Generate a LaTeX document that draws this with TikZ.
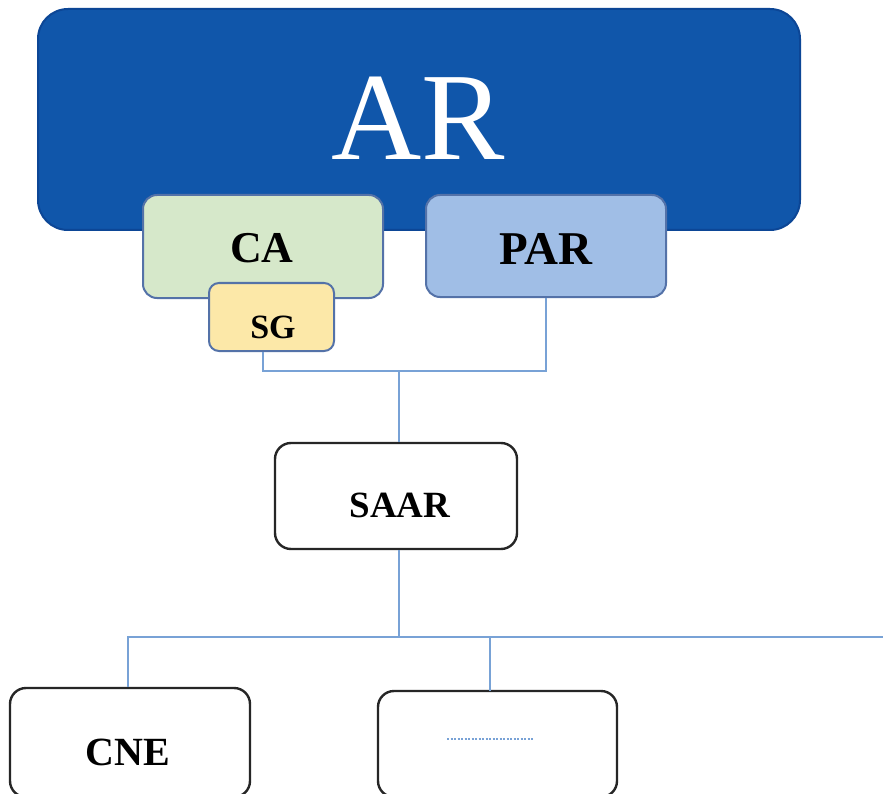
\documentclass[tikz,border=0pt]{standalone}
\usepackage{fontspec}
\setmainfont{Liberation Serif}
\definecolor{arblue}{RGB}{16,86,170}
\definecolor{arborder}{RGB}{12,70,150}
\definecolor{cagreen}{RGB}{214,232,202}
\definecolor{sgyellow}{RGB}{252,232,168}
\definecolor{parblue}{RGB}{160,190,230}
\definecolor{boxedge}{RGB}{84,114,168}
\definecolor{connblue}{RGB}{120,162,214}
\begin{document}
\begin{tikzpicture}[x=1pt,y=-1pt,
  boxbase/.style={rectangle,inner sep=0pt,line width=2pt},
  colbox/.style={boxbase,draw=boxedge,rounded corners=14pt},
  whitebox/.style={boxbase,draw=black!85,fill=white,line width=2.4pt,rounded corners=16pt},
  conn/.style={draw=connblue,line width=1.4pt},
  lbl/.style={anchor=base,inner sep=0pt,font=\bfseries}
]
\useasboundingbox (0,0) rectangle (883,794);
\clip (0,0) rectangle (883,794);
\fill[white] (0,0) rectangle (883,794);

% top box
\node[boxbase,draw=arborder,fill=arblue,rounded corners=30pt,minimum width=762pt,minimum height=221pt] (ar) at (419,119.5) {};
\node[anchor=base,inner sep=0pt,text=white,font=\fontsize{125}{125}\selectfont] (artext) at (418,160) {AR};

% CA, PAR, SG
\node[colbox,fill=cagreen,minimum width=240pt,minimum height=103pt] (ca) at (263,246.5) {};
\node[lbl,font=\bfseries\fontsize{44}{44}\selectfont] (catext) at (262,263) {CA};
\node[colbox,fill=parblue,minimum width=240pt,minimum height=102pt] (par) at (546,246) {};
\node[lbl,font=\bfseries\fontsize{47}{47}\selectfont] (partext) at (546,265) {PAR};
\node[colbox,fill=sgyellow,rounded corners=10pt,minimum width=125pt,minimum height=68pt] (sg) at (271.5,317) {};
\node[lbl,font=\bfseries\fontsize{34}{34}\selectfont] (sgtext) at (273,338) {SG};

% SAAR
\node[whitebox,minimum width=242pt,minimum height=106pt] (saar) at (396,496) {};
\node[lbl,font=\bfseries\fontsize{37}{37}\selectfont] (saartext) at (400,517) {SAAR};

% bottom boxes
\node[whitebox,minimum width=240pt,minimum height=109pt] (cne) at (130,742.5) {};
\node[lbl,font=\bfseries\fontsize{40}{40}\selectfont] (cnetext) at (128,765) {CNE};
\node[whitebox,minimum width=239pt,minimum height=106pt] (box2) at (497.5,744) {};
\draw[connblue,line width=1.2pt,dash pattern=on 2pt off 1.5pt] (447,739) -- (534,739);

% connectors
\coordinate (j1) at (399,371);
\coordinate (j2) at (399,637);
\coordinate (rightend) at (883,637);
\coordinate (b2top) at (490,691);
\draw[conn] (sg.south -| ca.south) |- (j1) -| (par.south);
\draw[conn] (j1) -- (saar.north -| j1);
\draw[conn] (saar.south -| j2) -- (j2);
\draw[conn] (cne.north -| 128,0) |- (rightend);
\draw[conn] (b2top) -- (b2top |- j2);
\end{tikzpicture}
\end{document}
